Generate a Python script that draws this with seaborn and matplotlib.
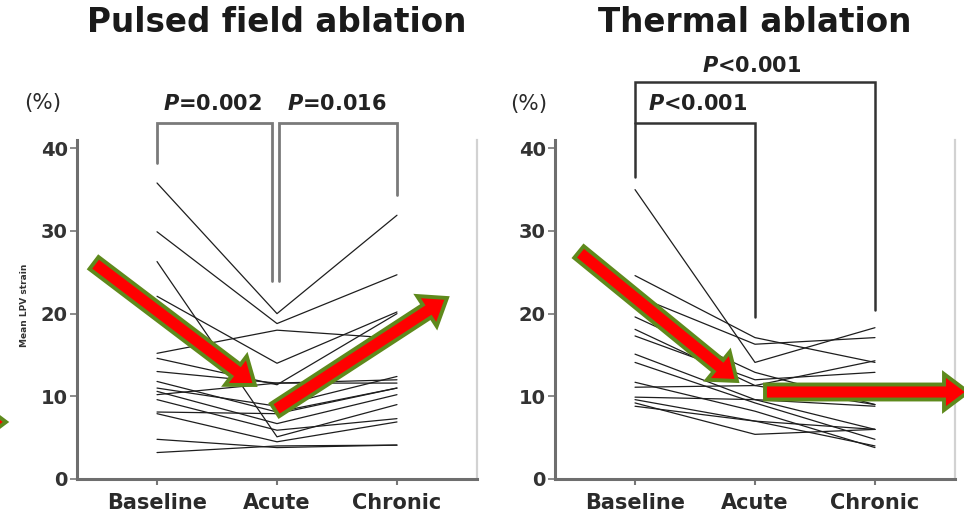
import numpy as np
import pandas as pd
import matplotlib
matplotlib.use("Agg")
import matplotlib.pyplot as plt
import seaborn as sns
from matplotlib.patches import FancyArrow

# ---------------- data ----------------
timepoints = ["Baseline", "Acute", "Chronic"]
yticks = [0, 10, 20, 30, 40]

pfa_baseline = [35.8, 29.9, 26.3, 22.1, 15.2, 14.6, 13.0, 11.8, 11.0, 10.6, 10.2, 9.6, 8.1, 7.9, 4.8, 3.2]
pfa_acute    = [20.0, 18.8, 5.1, 14.0, 18.0, 11.4, 11.6, 8.1, 8.8, 6.7, 11.6, 5.9, 7.9, 4.5, 3.8, 4.0]
pfa_chronic  = [31.9, 24.7, 9.0, 20.2, 17.0, 20.0, 12.0, 11.0, 12.4, 10.2, 11.6, 7.3, 11.0, 6.9, 4.1, 4.1]

th_baseline = [35.0, 24.6, 22.2, 19.6, 18.1, 17.3, 15.1, 14.1, 11.7, 11.1, 9.9, 9.6, 9.2, 8.8]
th_acute    = [14.1, 17.1, 16.3, 12.9, 11.3, 12.0, 9.6, 9.2, 8.2, 11.3, 9.6, 7.0, 5.4, 7.0]
th_chronic  = [18.3, 14.1, 17.1, 9.0, 14.3, 12.9, 6.0, 4.8, 3.8, 9.0, 8.8, 6.0, 6.0, 4.0]

titles = ["Pulsed field ablation", "Thermal ablation"]
ylabel = "Mean LPV strain"
pfa_pvals = ["0.002", "0.016"]
th_pvals = ["<0.001", "<0.001"]


def long_df(b, a, c):
    rows = []
    for pid, vals in enumerate(zip(b, a, c)):
        for i, v in enumerate(vals):
            rows.append({"pid": pid, "pos": i, "tp": timepoints[i], "val": v})
    return pd.DataFrame(rows)


df_pfa = long_df(pfa_baseline, pfa_acute, pfa_chronic)
df_th = long_df(th_baseline, th_acute, th_chronic)

# ---------------- style ----------------
sns.set_theme(style="white")
plt.rcParams["font.family"] = ["DejaVu Sans"]
plt.rcParams["mathtext.fontset"] = "dejavusans"

W, H = 964, 517
fig = plt.figure(figsize=(W / 100, H / 100), dpi=100)
fig.patch.set_facecolor("white")

ax_h = 339 / H
ax_w = 400 / W
axes = [fig.add_axes([77 / W, 38 / H, ax_w, ax_h]),
        fig.add_axes([555 / W, 38 / H, ax_w, ax_h])]

for ax, df in zip(axes, [df_pfa, df_th]):
    sns.lineplot(data=df, x="pos", y="val", units="pid", estimator=None,
                 color="#1e1e1e", lw=0.9, ax=ax, legend=False)
    ax.set_xlim(-0.667, 2.667)
    ax.set_ylim(0, 41)
    ax.set_xticks(range(len(timepoints)))
    ax.set_xticklabels(timepoints, fontsize=15, fontweight="bold", color="#2a2a2a")
    ax.set_yticks(yticks)
    ax.set_yticklabels([str(t) for t in yticks], fontsize=14, fontweight="bold", color="#333333")
    ax.set_xlabel("")
    ax.set_ylabel("")
    ax.tick_params(axis="x", length=4, width=1.5, color="#777777", pad=6, direction="out", bottom=True)
    ax.tick_params(axis="y", length=5, width=1.2, color="#777777", pad=1.5, direction="out", left=True)
    ax.spines["top"].set_visible(False)
    for s in ("left", "bottom"):
        ax.spines[s].set_color("#6e6e6e")
        ax.spines[s].set_linewidth(2.2)
    ax.spines["right"].set_color("#d2d2d2")
    ax.spines["right"].set_linewidth(1.6)
    ax.set_facecolor("white")

# brackets
axL, axR = axes
bk = dict(color="#7a7a7a", lw=2.0, clip_on=False, solid_joinstyle="miter")
axL.plot([0, 0, 0.96, 0.96], [38.2, 43.0, 43.0, 24.0], **bk)
axL.plot([1.02, 1.02, 2, 2], [24.0, 43.0, 43.0, 34.3], **bk)
bk2 = dict(color="#333333", lw=1.8, clip_on=False, solid_joinstyle="miter")
axR.plot([0, 0, 2, 2], [36.5, 48.0, 48.0, 20.4], **bk2)
axR.plot([0, 1, 1], [43.1, 43.1, 19.6], **bk2)

ptxt = dict(ha="center", va="center", fontsize=15, fontweight="bold", color="#222222", clip_on=False)
axL.text(0.46, 45.3, r"$\mathbfit{P}$=" + pfa_pvals[0], **ptxt)
axL.text(1.50, 45.3, r"$\mathbfit{P}$=" + pfa_pvals[1], **ptxt)
axR.text(0.97, 50.0, r"$\mathbfit{P}$" + th_pvals[1], **ptxt)
axR.text(0.52, 45.3, r"$\mathbfit{P}$" + th_pvals[0], **ptxt)

# titles and unit labels
fig.text(277 / W, 1 - 23 / H, titles[0], ha="center", va="center",
         fontsize=23.5, fontweight="bold", color="#1a1a1a")
fig.text(755 / W, 1 - 23 / H, titles[1], ha="center", va="center",
         fontsize=23.5, fontweight="bold", color="#1a1a1a")
fig.text(43 / W, 1 - 103 / H, "(%)", ha="center", va="center", fontsize=15.5, color="#2a2a2a")
fig.text(529 / W, 1 - 104 / H, "(%)", ha="center", va="center", fontsize=15.5, color="#2a2a2a")
fig.text(25 / W, 1 - 305 / H, ylabel, ha="center", va="center", rotation=90,
         fontsize=6.5, fontweight="bold", color="#333333")

# overlay arrows (annotation, pixel coordinates)
ov = fig.add_axes([0, 0, 1, 1], zorder=10)
ov.set_xlim(0, W)
ov.set_ylim(H, 0)
ov.axis("off")
ov.patch.set_alpha(0)

arrows = [((94, 263), (255, 385)),
          ((275, 410), (447, 298)),
          ((579, 252), (737, 381)),
          ((765, 392), (968, 392)),
          ((-60, 422), (6, 422))]
for (x0, y0), (x1, y1) in arrows:
    a = FancyArrow(x0, y0, x1 - x0, y1 - y0, width=15, head_width=36, head_length=24,
                   length_includes_head=True, facecolor="#ff0000", edgecolor="#5e8a1c",
                   linewidth=2.8, joinstyle="miter")
    ov.add_patch(a)

fig.savefig("out.png", dpi=100, facecolor="white")
